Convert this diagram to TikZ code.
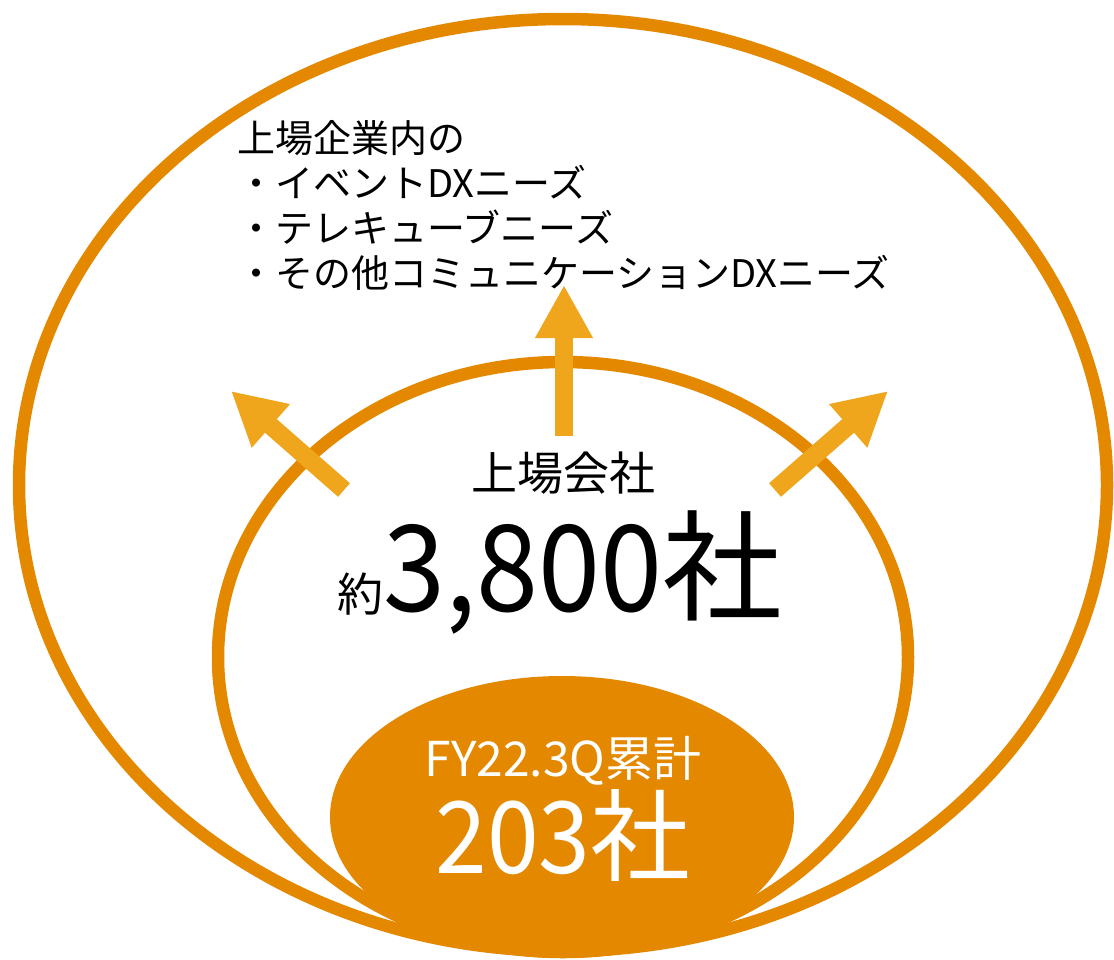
\documentclass[tikz,border=0pt]{standalone}
\usepackage{fontspec}
\setmainfont{Noto Sans CJK JP}
\newfontfamily\narrowdigits[FakeStretch=0.93]{Noto Sans CJK JP}
\usetikzlibrary{arrows.meta}
\definecolor{ringc}{RGB}{228,136,0}
\definecolor{arrowc}{RGB}{239,166,28}
\begin{document}
\begin{tikzpicture}[x=1pt,y=-1pt,
  ring/.style={draw=ringc,line width=12.5pt},
  bigarrow/.style={draw=arrowc,line width=18pt,-{Triangle[length=53pt,width=54pt]}},
  needs/.style={anchor=base west,inner sep=0pt,font=\fontsize{38}{44}\selectfont},
  label/.style={anchor=base,inner sep=0pt}]
\useasboundingbox (0,0) rectangle (1114,959);
\draw[ring] (563,485) ellipse [x radius=544pt,y radius=466pt];
\draw[ring] (563,657) ellipse [x radius=345pt,y radius=295pt];
\fill[ringc] (562,817) ellipse [x radius=232pt,y radius=141pt];
% arrows
\coordinate (upS) at (564,436);
\coordinate (upT) at (564,285);
\coordinate (lS) at (344,490);
\coordinate (lT) at (231,391);
\coordinate (rS) at (775,490);
\coordinate (rT) at (888,391);
\draw[bigarrow] (upS) -- (upT);
\draw[bigarrow] (lS) -- (lT);
\draw[bigarrow] (rS) -- (rT);
% texts
\node[needs] (n1) at (237,152) {上場企業内の};
\node[needs] (n2) at (237,197) {・イベントDXニーズ};
\node[needs] (n3) at (237,242) {・テレキューブニーズ};
\node[needs] (n4) at (237,287) {・その他コミュニケーションDXニーズ};
\node[label,font=\fontsize{46}{50}\selectfont] (t1) at (563,490) {上場会社};
\node[label] (t2) at (560,611) {\fontsize{46}{50}\selectfont 約\fontsize{120}{130}\selectfont{\narrowdigits 3,800}社};
\node[label,text=white,font=\fontsize{48}{52}\selectfont] (t3) at (563,776) {FY22.3Q累計};
\node[label,text=white,font=\fontsize{100}{110}\selectfont] (t4) at (563,873) {{\narrowdigits 203}社};
\end{tikzpicture}
\end{document}
